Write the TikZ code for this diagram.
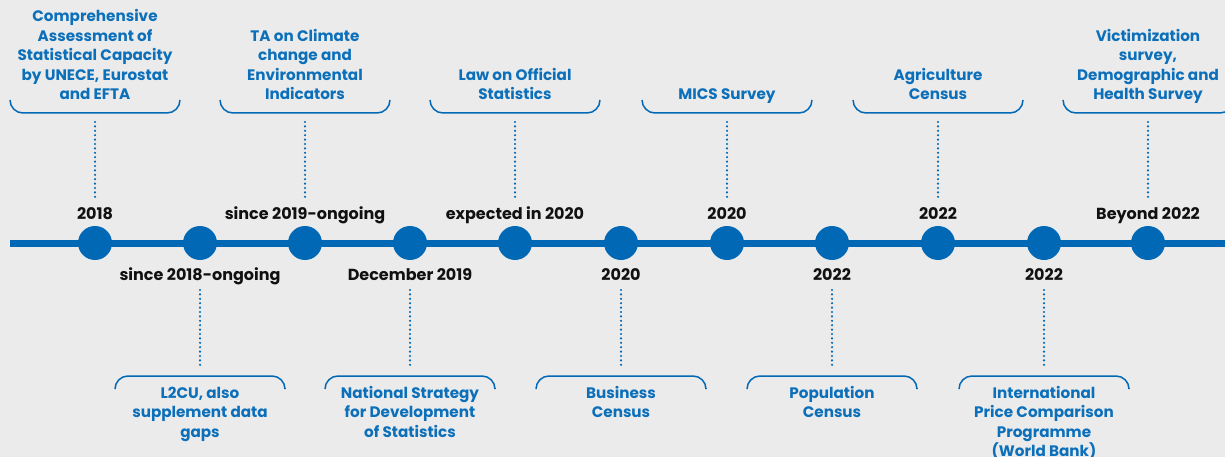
\documentclass[tikz,border=0pt]{standalone}
\usepackage{fontspec}
\setmainfont{Poppins}
\usetikzlibrary{positioning}
\definecolor{tlblue}{HTML}{0068B5}
\definecolor{txtblue}{HTML}{0C6FBA}
\definecolor{bggray}{HTML}{EBEBEB}
\definecolor{yrblack}{HTML}{111111}
\tikzset{
  dot/.style={circle, fill=tlblue, minimum size=34pt, inner sep=0pt},
  yearlbl/.style={anchor=base, font=\fontsize{16}{19.5}\selectfont\bfseries, text=yrblack, inner sep=0pt},
  evtop/.style={anchor=south, align=center, inner sep=0pt, text=txtblue,
    font=\fontsize{15.2}{19.5}\selectfont\bfseries},
  evbot/.style={anchor=north, align=center, inner sep=0pt, text=txtblue,
    font=\fontsize{15.2}{19.5}\selectfont\bfseries},
  bracket/.style={tlblue, line width=1.5pt, rounded corners=13pt},
  dotline/.style={tlblue, line width=2.4pt, line cap=round, dash pattern=on 0pt off 4.4pt}
}
\begin{document}
\begin{tikzpicture}[x=1pt,y=-1pt]
    \useasboundingbox (0,0) rectangle (1225,457);
    \fill[bggray] (0,0) rectangle (1225,457);

    % timeline axis
    \coordinate (axisL) at (10,243);
    \coordinate (axisR) at (1225,243);
    \draw[tlblue, line width=7pt] (axisL) -- (axisR);

    % events above the line
    \foreach \i/\x/\yr/\txt in {
        1/95/{2018}/{Comprehensive\\Assessment of\\Statistical Capacity\\by UNECE, Eurostat\\and EFTA},
        3/305/{since 2019-ongoing}/{TA on Climate\\change and\\Environmental\\Indicators},
        5/515/{expected in 2020}/{Law on Official\\Statistics},
        7/727/{2020}/{MICS Survey},
        9/938/{2022}/{Agriculture\\Census},
        11/1148/{Beyond 2022}/{Victimization\\survey,\\Demographic and\\Health Survey}} {
        \node[dot] (d\i) at (\x,243) {};
        \node[yearlbl] (y\i) at (\x,219) {\yr};
        \node[evtop] (t\i) at (\x,105.85) {\txt\strut};
        \coordinate (b\i) at (\x,113);
        \draw[bracket] (\x-85,100) -- (\x-85,113) -- (\x+85,113) -- (\x+85,100);
        \draw[dotline, shorten <=9pt, shorten >=19pt] (b\i) -- (y\i.base);
    }

    % events below the line
    \foreach \i/\x/\yr/\txt in {
        2/200/{since 2018-ongoing}/{L2CU, also\\supplement data\\gaps},
        4/410/{December 2019}/{National Strategy\\for Development\\of Statistics},
        6/621/{2020}/{Business\\Census},
        8/832/{2022}/{Population\\Census},
        10/1044/{2022}/{International\\Price Comparison\\Programme\\(World Bank)}} {
        \node[dot] (d\i) at (\x,243) {};
        \node[yearlbl] (y\i) at (\x,280) {\yr};
        \node[evbot] (t\i) at (\x,384.35) {\strut\txt};
        \coordinate (b\i) at (\x,376);
        \draw[bracket] (\x-85,388) -- (\x-85,376) -- (\x+85,376) -- (\x+85,388);
        \draw[dotline, shorten <=10pt, shorten >=11pt] (y\i.base) -- (b\i);
    }

\end{tikzpicture}
\end{document}
